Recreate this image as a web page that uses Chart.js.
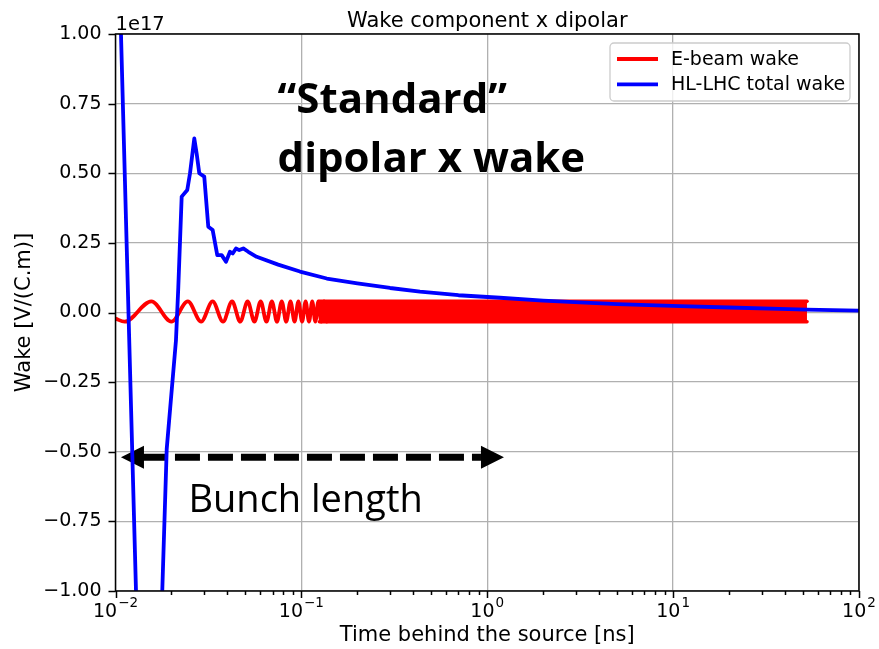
<!DOCTYPE html>
<html>
<head>
<meta charset="utf-8">
<title>Wake component x dipolar</title>
<script src="https://cdn.jsdelivr.net/npm/chart.js@4.4.1/dist/chart.umd.min.js"></script>
<style>
  html, body { margin: 0; padding: 0; background: #fff; }
  #wrap { width: 879px; height: 649px; position: relative; }
</style>
</head>
<body>
<div id="wrap"><canvas id="wakeChart"></canvas></div>
<script>
// wake in units of 1e17 V/(C.m), time behind the source in ns

// E-beam wake: resolved oscillation at short times (extrema)
const ebeamTime = [0.0100, 0.0112, 0.0156, 0.0200, 0.0245, 0.0289, 0.0333, 0.0379,
                   0.0424, 0.0469, 0.0514, 0.0559, 0.0604, 0.0649, 0.0694, 0.0739,
                   0.0784, 0.0829, 0.0874, 0.0919, 0.0964, 0.1009, 0.1054, 0.1099,
                   0.1144, 0.1189, 0.1234, 0.1279, 0.1324, 0.1369, 0.1414];
const ebeamWake = [-0.022, -0.033, 0.040, -0.033, 0.040, -0.033, 0.040, -0.033,
                   0.040, -0.033, 0.040, -0.033, 0.040, -0.033, 0.040, -0.033,
                   0.040, -0.033, 0.040, -0.033, 0.040, -0.033, 0.040, -0.033,
                   0.040, -0.033, 0.040, -0.033, 0.040, -0.033, 0.040];
// E-beam wake: dense oscillation, drawn as its envelope
const ebeamBandTime = [0.125, 52.5];
const ebeamBandTop = [0.040, 0.040];
const ebeamBandBottom = [-0.033, -0.033];

// HL-LHC total wake
const hllhcTime = [0.0100, 0.01496, 0.01785, 0.01886, 0.01988, 0.02115, 0.02177, 0.02270,
                   0.02433, 0.02517, 0.02654, 0.02734, 0.02823, 0.03003, 0.03156, 0.03333,
                   0.03528, 0.03726, 0.03930, 0.04129, 0.04271, 0.04448, 0.04634, 0.04869,
                   0.05181, 0.05747, 0.075, 0.0983, 0.137, 0.2, 0.3, 0.4345,
                   0.7, 1.17, 2.0, 3.15, 5.0, 10.9, 20, 37.5,
                   52, 100];
const hllhcWake = [1.73, -2.60, -1.00, -0.49, -0.31, -0.10, 0.09, 0.416,
                   0.44, 0.50, 0.625, 0.57, 0.50, 0.488, 0.308, 0.296,
                   0.206, 0.206, 0.182, 0.218, 0.212, 0.23, 0.224, 0.23,
                   0.218, 0.20, 0.172, 0.147, 0.122, 0.105, 0.088, 0.075,
                   0.062, 0.053, 0.043, 0.036, 0.030, 0.023, 0.018, 0.013,
                   0.010, 0.007];

const seriesNames = ['E-beam wake', 'HL-LHC total wake'];
const seriesColors = ['#ff0000', '#0000ff'];

const xTickValues = [0.01, 0.1, 1, 10, 100];
const xTickExponents = ['\u22122', '\u22121', '0', '1', '2'];
const yTickValues = [-1, -0.75, -0.5, -0.25, 0, 0.25, 0.5, 0.75, 1];

const bunchArrow = { from: 0.0107, to: 1.23, y: -0.52 };
const noteStandard = { x: 0.0745, y: [0.716, 0.504], lines: ['\u201cStandard\u201d', 'dipolar x wake'] };
const noteBunch = { x: 0.0247, y: -0.716, text: 'Bunch length' };

const mplFont = '"DejaVu Sans", sans-serif';

function toPoints(xs, ys) {
  return xs.map((x, i) => ({ x: x, y: ys[i] }));
}

// minor log ticks 2..9 in every decade
const xAllTicks = [];
for (let d = -2; d < 2; d++) {
  for (let m = 1; m < 10; m++) xAllTicks.push(m * Math.pow(10, d));
}
xAllTicks.push(100);

function isMajor(v) {
  const l = Math.log10(v);
  return Math.abs(l - Math.round(l)) < 1e-9;
}

const framePlugin = {
  id: 'frame',
  beforeDatasetsDraw(chart) {
    const ctx = chart.ctx, xs = chart.scales.x, ys = chart.scales.y;
    ctx.save();
    ctx.fillStyle = '#000';
    ctx.textBaseline = 'alphabetic';
    ctx.textAlign = 'left';

    // text notes
    ctx.font = '700 42px "Open Sans", sans-serif';
    noteStandard.lines.forEach((t, i) => {
      ctx.fillText(t, xs.getPixelForValue(noteStandard.x), ys.getPixelForValue(noteStandard.y[i]));
    });
    ctx.font = '400 38px "Open Sans", sans-serif';
    ctx.fillText(noteBunch.text, xs.getPixelForValue(noteBunch.x), ys.getPixelForValue(noteBunch.y));

    // bunch length arrow
    const x1 = xs.getPixelForValue(bunchArrow.from);
    const x2 = xs.getPixelForValue(bunchArrow.to);
    const y = ys.getPixelForValue(bunchArrow.y);
    const head = 23, half = 11.5;
    ctx.strokeStyle = '#000';
    ctx.lineWidth = 7;
    ctx.setLineDash([25, 8]);
    ctx.beginPath();
    ctx.moveTo(x1 + head - 2, y);
    ctx.lineTo(x2 - head, y);
    ctx.stroke();
    ctx.setLineDash([]);
    ctx.beginPath();
    ctx.moveTo(x1, y); ctx.lineTo(x1 + head, y - half); ctx.lineTo(x1 + head, y + half); ctx.closePath();
    ctx.moveTo(x2, y); ctx.lineTo(x2 - head, y - half); ctx.lineTo(x2 - head, y + half); ctx.closePath();
    ctx.fill();
    ctx.restore();
  },
  afterDraw(chart) {
    const ctx = chart.ctx, area = chart.chartArea, xs = chart.scales.x, ys = chart.scales.y;
    ctx.save();

    // axes box
    ctx.strokeStyle = '#000';
    ctx.lineWidth = 1.5;
    ctx.strokeRect(area.left, area.top, area.right - area.left, area.bottom - area.top);

    // tick marks
    ctx.beginPath();
    xs.ticks.forEach(t => {
      const px = Math.round(xs.getPixelForValue(t.value)) + 0.5;
      const len = isMajor(t.value) ? 7 : 4;
      ctx.moveTo(px, area.bottom);
      ctx.lineTo(px, area.bottom + len);
    });
    ys.ticks.forEach(t => {
      const py = Math.round(ys.getPixelForValue(t.value)) + 0.5;
      ctx.moveTo(area.left, py);
      ctx.lineTo(area.left - 7, py);
    });
    ctx.stroke();

    // x tick labels as powers of ten
    ctx.fillStyle = '#000';
    ctx.textAlign = 'left';
    ctx.textBaseline = 'alphabetic';
    xTickValues.forEach((v, i) => {
      const px = xs.getPixelForValue(v);
      ctx.font = '19px ' + mplFont;
      const wBase = ctx.measureText('10').width;
      ctx.font = '13.5px ' + mplFont;
      const wExp = ctx.measureText(xTickExponents[i]).width;
      const x0 = px - (wBase + wExp + 1) / 2;
      ctx.font = '19px ' + mplFont;
      ctx.fillText('10', x0, area.bottom + 26);
      ctx.font = '13.5px ' + mplFont;
      ctx.fillText(xTickExponents[i], x0 + wBase + 1, area.bottom + 16);
    });

    // title and offset text
    ctx.font = '21px ' + mplFont;
    ctx.textAlign = 'center';
    ctx.fillText('Wake component x dipolar', (area.left + area.right) / 2, 26.5);
    ctx.font = '19.5px ' + mplFont;
    ctx.textAlign = 'left';
    ctx.fillText('1e17', area.left, 30);

    // legend
    const boxW = 240, boxH = 58;
    const bx = area.right - 9 - boxW, by = area.top + 9;
    ctx.beginPath();
    ctx.roundRect(bx, by, boxW, boxH, 4);
    ctx.fillStyle = 'rgba(255,255,255,0.8)';
    ctx.fill();
    ctx.strokeStyle = '#cccccc';
    ctx.lineWidth = 1.3;
    ctx.stroke();
    ctx.font = '19px ' + mplFont;
    ctx.textBaseline = 'middle';
    seriesNames.forEach((name, i) => {
      const ly = by + 16 + i * 25.3;
      ctx.strokeStyle = seriesColors[i];
      ctx.lineWidth = 3.8;
      ctx.beginPath();
      ctx.moveTo(bx + 7, ly);
      ctx.lineTo(bx + 48, ly);
      ctx.stroke();
      ctx.fillStyle = '#000';
      ctx.fillText(name, bx + 61, ly + 1);
    });
    ctx.restore();
  }
};

const ctx = document.getElementById('wakeChart').getContext('2d');
const chart = new Chart(ctx, {
  type: 'line',
  data: {
    datasets: [
      {
        label: seriesNames[0],
        data: toPoints(ebeamTime, ebeamWake),
        borderColor: seriesColors[0],
        borderWidth: 3.8,
        cubicInterpolationMode: 'monotone',
        pointRadius: 0,
        fill: false,
        order: 2
      },
      {
        label: '',
        data: toPoints(ebeamBandTime, ebeamBandTop),
        borderColor: seriesColors[0],
        borderWidth: 3.6,
        borderCapStyle: 'round',
        pointRadius: 0,
        fill: false,
        order: 2
      },
      {
        label: '',
        data: toPoints(ebeamBandTime, ebeamBandBottom),
        borderColor: seriesColors[0],
        backgroundColor: seriesColors[0],
        borderWidth: 3.6,
        borderCapStyle: 'round',
        pointRadius: 0,
        fill: '-1',
        order: 2
      },
      {
        label: seriesNames[1],
        data: toPoints(hllhcTime, hllhcWake),
        borderColor: seriesColors[1],
        borderWidth: 3.8,
        borderJoinStyle: 'round',
        pointRadius: 0,
        fill: false,
        tension: 0,
        order: 1
      }
    ]
  },
  options: {
    responsive: true,
    maintainAspectRatio: false,
    animation: false,
    events: [],
    layout: { padding: { top: 34, right: 20, left: 0, bottom: 0 } },
    plugins: {
      legend: { display: false },
      title: { display: false },
      tooltip: { enabled: false }
    },
    scales: {
      x: {
        type: 'logarithmic',
        min: 0.01,
        max: 100,
        afterBuildTicks: s => { s.ticks = xAllTicks.map(v => ({ value: v, major: isMajor(v) })); },
        afterFit: s => { s.height = 58; },
        ticks: { autoSkip: false, maxRotation: 0, callback: () => '' },
        grid: {
          drawTicks: false,
          color: c => (c.tick && isMajor(c.tick.value)) ? '#b0b0b0' : 'rgba(0,0,0,0)',
          lineWidth: 1.3
        },
        border: { display: false },
        title: {
          display: true,
          text: 'Time behind the source [ns]',
          color: '#000',
          font: { family: mplFont, size: 21 },
          padding: { top: 0, bottom: 1 }
        }
      },
      y: {
        type: 'linear',
        min: -1,
        max: 1,
        afterBuildTicks: s => { s.ticks = yTickValues.map(v => ({ value: v })); },
        afterFit: s => { s.width = 115.5; },
        ticks: {
          color: '#000',
          padding: 14,
          font: { family: mplFont, size: 19 },
          callback: v => v.toFixed(2).replace('-', '\u2212')
        },
        grid: { drawTicks: false, color: '#b0b0b0', lineWidth: 1.3 },
        border: { display: false },
        title: {
          display: true,
          text: 'Wake [V/(C.m)]',
          color: '#000',
          font: { family: mplFont, size: 21 },
          padding: { top: 12, bottom: 0 }
        }
      }
    }
  },
  plugins: [framePlugin]
});
</script>
</body>
</html>
